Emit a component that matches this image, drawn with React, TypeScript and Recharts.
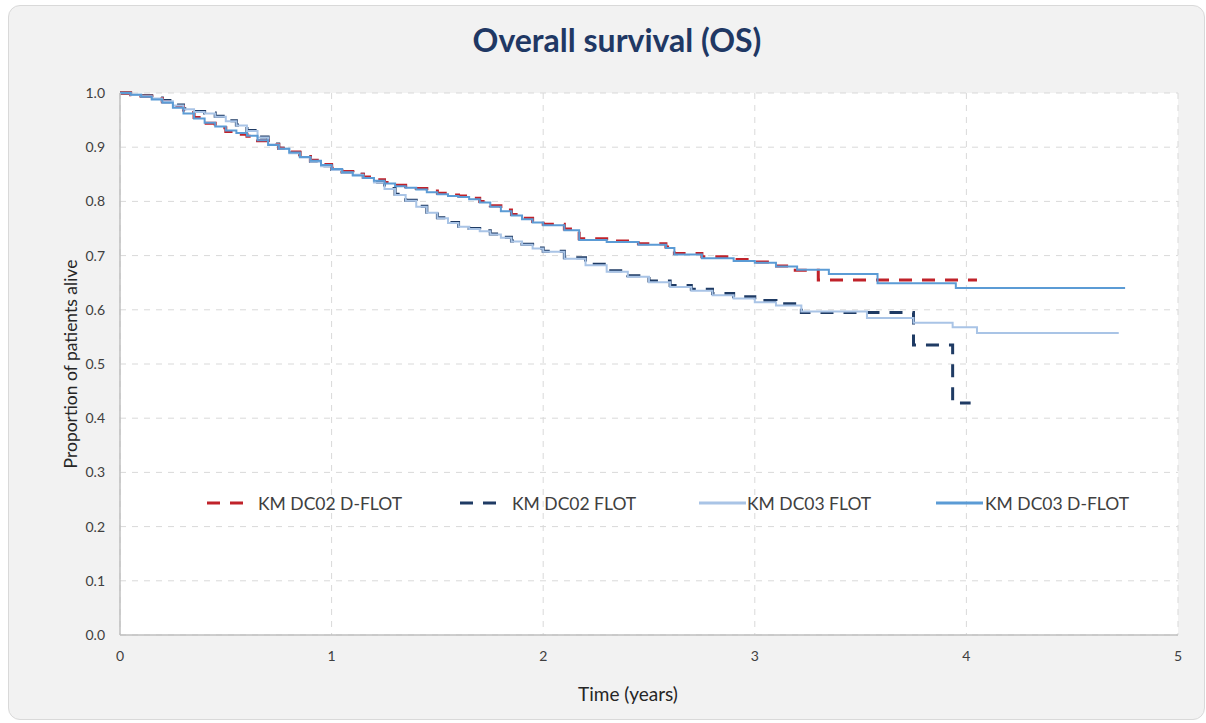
import React from 'react';
import { LineChart, Line, XAxis, YAxis, CartesianGrid, Label } from 'recharts';

// survival estimates, time in years
const dc02DflotTime = [0, 0.05, 0.1, 0.15, 0.2, 0.25, 0.3, 0.35, 0.4, 0.45, 0.5, 0.55, 0.6, 0.65, 0.7, 0.75, 0.8, 0.85, 0.9, 0.95, 1.0, 1.05, 1.1, 1.15, 1.2, 1.25, 1.3, 1.35, 1.4, 1.45, 1.5, 1.55, 1.6, 1.65, 1.7, 1.75, 1.8, 1.85, 1.9, 1.95, 2.0, 2.1, 2.17, 2.3, 2.45, 2.58, 2.62, 2.75, 2.9, 3.0, 3.09, 3.17, 3.3, 4.05];
const dc02DflotSurv = [1.0, 0.997, 0.994, 0.99, 0.984, 0.975, 0.964, 0.955, 0.944, 0.936, 0.929, 0.924, 0.92, 0.912, 0.905, 0.898, 0.891, 0.883, 0.876, 0.868, 0.861, 0.855, 0.85, 0.845, 0.84, 0.835, 0.83, 0.827, 0.824, 0.819, 0.815, 0.812, 0.81, 0.806, 0.8, 0.792, 0.784, 0.776, 0.769, 0.763, 0.758, 0.749, 0.731, 0.727, 0.722, 0.716, 0.704, 0.698, 0.693, 0.688, 0.681, 0.673, 0.655, 0.655];

const dc02FlotTime = [0, 0.05, 0.1, 0.15, 0.2, 0.25, 0.3, 0.35, 0.4, 0.45, 0.5, 0.55, 0.6, 0.65, 0.7, 0.75, 0.8, 0.85, 0.9, 0.95, 1.0, 1.05, 1.1, 1.15, 1.2, 1.25, 1.3, 1.35, 1.4, 1.45, 1.5, 1.55, 1.6, 1.65, 1.7, 1.75, 1.8, 1.85, 1.9, 1.95, 2.0, 2.1, 2.2, 2.3, 2.4, 2.5, 2.6, 2.7, 2.8, 2.9, 3.0, 3.1, 3.22, 3.75, 3.935, 4.02];
const dc02FlotSurv = [1.0, 0.998, 0.995, 0.991, 0.986, 0.978, 0.971, 0.966, 0.963, 0.957, 0.949, 0.941, 0.931, 0.919, 0.906, 0.898, 0.89, 0.882, 0.874, 0.866, 0.859, 0.854, 0.85, 0.844, 0.836, 0.824, 0.813, 0.802, 0.791, 0.78, 0.77, 0.761, 0.754, 0.75, 0.746, 0.74, 0.734, 0.727, 0.721, 0.714, 0.708, 0.696, 0.684, 0.672, 0.663, 0.653, 0.645, 0.638, 0.63, 0.624, 0.617, 0.611, 0.595, 0.535, 0.428, 0.428];

const dc03FlotTime = [0, 0.05, 0.1, 0.15, 0.2, 0.25, 0.3, 0.35, 0.4, 0.45, 0.5, 0.55, 0.6, 0.65, 0.7, 0.75, 0.8, 0.85, 0.9, 0.95, 1.0, 1.05, 1.1, 1.15, 1.2, 1.25, 1.3, 1.35, 1.4, 1.45, 1.5, 1.55, 1.6, 1.65, 1.7, 1.75, 1.8, 1.85, 1.9, 1.95, 2.0, 2.1, 2.2, 2.3, 2.4, 2.5, 2.6, 2.7, 2.8, 2.9, 3.0, 3.1, 3.22, 3.53, 3.75, 3.935, 4.05, 4.72];
const dc03FlotSurv = [1.0, 0.997, 0.994, 0.99, 0.985, 0.977, 0.97, 0.965, 0.962, 0.956, 0.948, 0.94, 0.93, 0.918, 0.905, 0.897, 0.889, 0.881, 0.873, 0.865, 0.858, 0.853, 0.849, 0.843, 0.835, 0.823, 0.812, 0.801, 0.79, 0.779, 0.769, 0.76, 0.753, 0.749, 0.745, 0.739, 0.733, 0.726, 0.72, 0.713, 0.707, 0.694, 0.682, 0.67, 0.661, 0.651, 0.642, 0.635, 0.627, 0.621, 0.614, 0.608, 0.597, 0.585, 0.576, 0.568, 0.557, 0.557];

const dc03DflotTime = [0, 0.05, 0.1, 0.15, 0.2, 0.25, 0.3, 0.35, 0.4, 0.45, 0.5, 0.55, 0.6, 0.65, 0.7, 0.75, 0.8, 0.85, 0.9, 0.95, 1.0, 1.05, 1.1, 1.15, 1.2, 1.25, 1.3, 1.35, 1.4, 1.45, 1.5, 1.55, 1.6, 1.65, 1.7, 1.75, 1.8, 1.85, 1.9, 1.95, 2.0, 2.1, 2.17, 2.3, 2.45, 2.58, 2.62, 2.75, 2.9, 3.0, 3.1, 3.2, 3.35, 3.58, 3.95, 4.75];
const dc03DflotSurv = [1.0, 0.997, 0.993, 0.988, 0.982, 0.973, 0.962, 0.953, 0.945, 0.938, 0.931, 0.926, 0.921, 0.913, 0.904, 0.897, 0.89, 0.882, 0.875, 0.867, 0.86, 0.854, 0.848, 0.843, 0.838, 0.833, 0.828, 0.825, 0.822, 0.817, 0.813, 0.81, 0.808, 0.804, 0.798, 0.79, 0.782, 0.774, 0.767, 0.761, 0.756, 0.747, 0.729, 0.725, 0.72, 0.714, 0.702, 0.695, 0.69, 0.687, 0.68, 0.674, 0.666, 0.649, 0.64, 0.64];

const xTicks = [0, 1, 2, 3, 4, 5];
const yTicks = [0, 0.1, 0.2, 0.3, 0.4, 0.5, 0.6, 0.7, 0.8, 0.9, 1.0];

const zip = (t: number[], s: number[]) => t.map((v, i) => ({ t: v, s: s[i] }));

// drawing order: dashed curves under the solid ones
const series = [
  { name: 'KM DC02 FLOT', data: zip(dc02FlotTime, dc02FlotSurv), color: '#1f3b64', width: 3, dash: '13 10' },
  { name: 'KM DC02 D-FLOT', data: zip(dc02DflotTime, dc02DflotSurv), color: '#c0222a', width: 3, dash: '13 10' },
  { name: 'KM DC03 FLOT', data: zip(dc03FlotTime, dc03FlotSurv), color: '#a9c4e6', width: 2, dash: undefined },
  { name: 'KM DC03 D-FLOT', data: zip(dc03DflotTime, dc03DflotSurv), color: '#5b9bd5', width: 2, dash: undefined },
];

const legendItems = [
  { name: 'KM DC02 D-FLOT', color: '#c0222a', dash: '13 10', left: 198, swatch: 36, gap: 15 },
  { name: 'KM DC02 FLOT', color: '#1f3b64', dash: '13 10', left: 451, swatch: 36, gap: 16 },
  { name: 'KM DC03 FLOT', color: '#a9c4e6', dash: undefined, left: 690, swatch: 47, gap: 1 },
  { name: 'KM DC03 D-FLOT', color: '#5b9bd5', dash: undefined, left: 927, swatch: 47, gap: 2 },
];

const font = 'Lato, "Open Sans", sans-serif';

export default function App() {
  return (
    <div
      style={{
        position: 'absolute',
        left: 8,
        top: 5,
        width: 1195,
        height: 713,
        background: '#f2f2f2',
        border: '1px solid #d9d9d9',
        borderRadius: 12,
        fontFamily: font,
      }}
    >
      <div
        style={{
          position: 'absolute',
          top: 14,
          left: 0,
          width: 1216,
          textAlign: 'center',
          fontSize: 32,
          fontWeight: 700,
          color: '#1f3864',
        }}
      >
        Overall survival (OS)
      </div>
      <LineChart
        width={1195}
        height={713}
        margin={{ top: 87, right: 26, left: 0, bottom: 0 }}
        style={{ position: 'absolute', left: 0, top: 0 }}
      >
        <CartesianGrid stroke="#d9d9d9" strokeDasharray="6 6" fill="#ffffff" />
        <XAxis
          type="number"
          dataKey="t"
          domain={[0, 5]}
          ticks={xTicks}
          height={84}
          tickLine={false}
          tickMargin={10}
          stroke="#bfbfbf"
          strokeWidth={1.5}
          tick={{ fill: '#404040', fontSize: 14, fontFamily: font }}
          allowDuplicatedCategory={false}
        >
          <Label
            value="Time (years)"
            position="insideBottom"
            offset={18}
            dx={-21}
            style={{ fill: '#262626', fontSize: 19, fontFamily: font }}
          />
        </XAxis>
        <YAxis
          type="number"
          domain={[0, 1]}
          ticks={yTicks}
          width={111}
          tickLine={false}
          tickMargin={9}
          stroke="#bfbfbf"
          strokeWidth={1.5}
          tickFormatter={(v: number) => v.toFixed(1)}
          tick={{ fill: '#404040', fontSize: 14, fontFamily: font }}
        >
          <Label
            value="Proportion of patients alive"
            angle={-90}
            position="center"
            dx={6}
            style={{ fill: '#262626', fontSize: 17.5, fontFamily: font, textAnchor: 'middle' }}
          />
        </YAxis>
        {series.map((s) => (
          <Line
            key={s.name}
            data={s.data}
            dataKey="s"
            name={s.name}
            type="stepAfter"
            stroke={s.color}
            strokeWidth={s.width}
            strokeDasharray={s.dash}
            dot={false}
            activeDot={false}
            isAnimationActive={false}
          />
        ))}
      </LineChart>
      {legendItems.map((it) => (
        <div
          key={it.name}
          style={{
            position: 'absolute',
            left: it.left,
            top: 486,
            height: 22,
            display: 'flex',
            alignItems: 'center',
            fontSize: 17.5,
            color: '#404040',
          }}
        >
          <svg width={it.swatch} height={10} style={{ marginRight: it.gap }}>
            <line
              x1={0}
              y1={5}
              x2={it.swatch}
              y2={5}
              stroke={it.color}
              strokeWidth={3}
              strokeDasharray={it.dash}
            />
          </svg>
          <span>{it.name}</span>
        </div>
      ))}
    </div>
  );
}
